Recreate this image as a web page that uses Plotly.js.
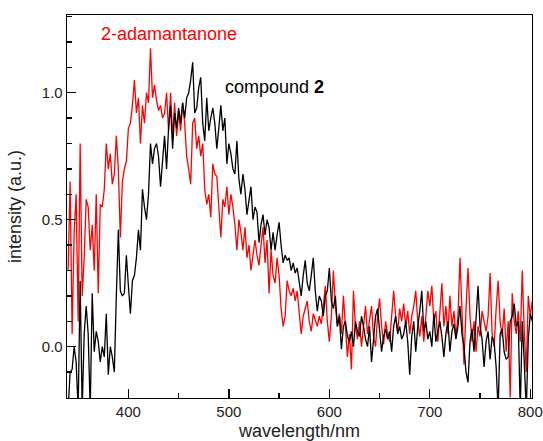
<!DOCTYPE html>
<html>
<head>
<meta charset="utf-8">
<script src="https://cdn.plot.ly/plotly-3.0.1.min.js"></script>
<style>html,body{margin:0;padding:0;background:#fff;}#chart{width:543px;height:441px;}</style>
</head>
<body>
<div id="chart"></div>
<script>
const wavelength = [
340,342,344,346,348,350,352,354,356,358,
360,362,364,366,368,370,372,374,376,378,
380,382,384,386,388,390,392,394,396,398,
400,402,404,406,408,410,412,414,416,418,
420,422,424,426,428,430,432,434,436,438,
440,442,444,446,448,450,452,454,456,458,
460,462,464,466,468,470,472,474,476,478,
480,482,484,486,488,490,492,494,496,498,
500,502,504,506,508,510,512,514,516,518,
520,522,524,526,528,530,532,534,536,538,
540,542,544,546,548,550,552,554,556,558,
560,562,564,566,568,570,572,574,576,578,
580,582,584,586,588,590,592,594,596,598,
600,602,604,606,608,610,612,614,616,618,
620,622,624,626,628,630,632,634,636,638,
640,642,644,646,648,650,652,654,656,658,
660,662,664,666,668,670,672,674,676,678,
680,682,684,686,688,690,692,694,696,698,
700,702,704,706,708,710,712,714,716,718,
720,722,724,726,728,730,732,734,736,738,
740,742,744,746,748,750,752,754,756,758,
760,762,764,766,768,770,772,774,776,778,
780,782,784,786,788,790,792,794,796,798,
800,802];

const adamantanone = [
0.30,0.65,0.05,0.45,0.60,0.10,0.80,0.20,0.35,0.58,
0.55,0.38,0.48,0.30,0.60,0.21,0.56,0.55,0.62,0.80,
0.70,0.76,0.64,0.68,0.83,0.70,0.43,0.65,0.70,0.73,
0.86,0.88,0.95,1.05,0.92,0.98,0.80,0.95,0.88,1.00,
0.96,1.175,0.98,1.03,0.97,0.93,0.95,0.90,0.92,1.00,
0.85,1.00,0.82,0.96,0.83,0.92,0.85,0.96,0.88,0.75,
0.70,0.64,0.88,0.90,0.78,0.83,0.75,0.80,0.62,0.56,
0.60,0.51,0.72,0.68,0.67,0.55,0.43,0.58,0.55,0.63,
0.52,0.60,0.55,0.48,0.38,0.50,0.45,0.38,0.47,0.35,
0.40,0.30,0.37,0.42,0.36,0.32,0.40,0.47,0.33,0.42,
0.21,0.38,0.28,0.25,0.35,0.28,0.15,0.08,0.12,0.26,
0.22,0.20,0.23,0.18,0.22,0.14,0.05,0.12,0.15,0.18,
0.10,0.06,0.13,0.10,0.08,0.12,0.09,0.16,0.24,0.10,
0.02,0.12,0.30,0.16,0.08,0.13,0.05,0.20,0.08,-0.04,
0.05,-0.09,0.22,0.08,0.03,0.10,0.00,0.08,0.16,0.05,
0.10,0.16,0.04,0.00,0.12,0.19,0.08,0.01,0.10,0.05,
0.02,0.12,0.22,0.12,0.06,0.15,0.10,0.17,0.08,0.14,
0.05,0.12,0.16,0.22,0.10,0.04,0.12,0.02,0.14,0.22,
0.16,0.24,0.10,0.14,0.02,0.12,0.25,0.08,0.16,0.05,
0.20,0.08,0.14,0.04,0.12,0.35,0.10,-0.07,0.15,0.31,
0.12,0.02,0.10,-0.02,0.08,0.04,0.14,0.10,0.06,0.12,
0.29,0.05,0.00,0.15,0.26,0.10,0.04,0.15,-0.02,0.10,
-0.20,0.21,0.10,0.05,0.14,0.02,0.30,0.06,-0.10,0.20,
0.12,0.18];

const compound2 = [
-0.25,-0.10,-0.09,0.00,-0.06,-0.25,0.26,-0.25,0.05,0.16,
0.05,-0.25,0.21,-0.02,0.06,0.02,-0.06,0.00,-0.04,0.13,
-0.11,0.00,-0.04,-0.10,0.20,0.46,0.22,0.20,0.21,0.36,
0.24,0.13,0.26,0.28,0.35,0.46,0.38,0.62,0.55,0.50,
0.60,0.80,0.72,0.78,0.80,0.75,0.63,0.74,0.83,0.70,
0.86,0.95,0.78,0.92,0.86,0.94,0.88,0.96,0.90,0.98,
1.00,1.05,1.12,0.92,0.94,1.02,1.06,0.88,0.81,0.98,
0.85,0.90,0.94,0.88,0.78,0.86,0.95,0.85,0.90,0.72,
0.80,0.76,0.70,0.68,0.81,0.66,0.60,0.68,0.62,0.52,
0.58,0.63,0.50,0.55,0.53,0.41,0.48,0.52,0.44,0.50,
0.47,0.38,0.45,0.38,0.44,0.49,0.40,0.33,0.36,0.34,
0.35,0.30,0.33,0.29,0.31,0.26,0.20,0.28,0.34,0.25,
0.22,0.28,0.35,0.22,0.14,0.20,0.18,0.12,0.20,0.22,
0.31,0.18,0.15,0.20,0.08,0.12,-0.01,0.08,0.10,0.04,
0.02,0.06,0.00,0.10,0.06,0.04,0.12,0.08,0.03,0.00,
0.08,-0.06,0.05,0.12,0.15,0.06,-0.02,0.04,0.07,0.03,
0.06,-0.02,0.08,0.12,0.05,0.08,0.03,0.05,0.10,0.02,
-0.11,0.04,0.10,-0.02,0.08,0.14,0.22,0.06,0.10,0.03,
0.06,0.00,0.13,0.02,0.06,0.10,0.04,-0.04,0.05,0.10,
-0.02,0.06,0.09,0.03,0.08,0.16,0.05,0.00,-0.10,-0.14,
0.02,0.07,-0.02,0.10,0.24,0.08,0.03,-0.08,0.02,0.06,
-0.05,0.04,0.02,-0.08,-0.25,0.05,0.07,-0.02,-0.05,-0.04,
0.10,0.12,0.17,0.08,0.10,-0.25,0.10,-0.06,-0.25,0.03,
0.13,0.10];

const seriesNames = ['2-adamantanone', 'compound 2'];
const FONT = 'Liberation Sans, Arial, sans-serif';

const traces = [
  {x: wavelength, y: adamantanone, type: 'scatter', mode: 'lines', name: seriesNames[0],
   line: {color: '#ff0000', width: 1.3}},
  {x: wavelength, y: compound2, type: 'scatter', mode: 'lines', name: seriesNames[1],
   line: {color: '#000000', width: 1.3}}
];

const axisCommon = {
  showline: true, linecolor: '#000', linewidth: 1.3, mirror: true,
  showgrid: false, zeroline: false,
  ticks: 'inside', ticklen: 9, tickwidth: 1.3, tickcolor: '#000',
  tickfont: {family: FONT, size: 15, color: '#222'}
};

const layout = {
  width: 543, height: 441,
  margin: {l: 67, r: 11, t: 15, b: 43},
  paper_bgcolor: '#fff', plot_bgcolor: '#fff',
  showlegend: false,
  font: {family: FONT, color: '#000'},
  xaxis: Object.assign({}, axisCommon, {
    range: [338.9, 801.7], tick0: 0, dtick: 100,
    minor: {dtick: 50, ticks: 'inside', ticklen: 5, tickwidth: 1.3, tickcolor: '#000'},
    title: {text: 'wavelength/nm', font: {family: FONT, size: 18, color: '#222'}, standoff: 10}
  }),
  yaxis: Object.assign({}, axisCommon, {
    range: [-0.202, 1.306], tick0: 0, dtick: 0.5, tickformat: '.1f',
    minor: {dtick: 0.1, ticks: 'inside', ticklen: 5, tickwidth: 1.3, tickcolor: '#000'},
    title: {text: 'intensity (a.u.)', font: {family: FONT, size: 18, color: '#222'}}
  }),
  annotations: [
    {x: 370.5, y: 1.231, xref: 'x', yref: 'y', xanchor: 'left', yanchor: 'middle',
     text: seriesNames[0], showarrow: false, font: {family: FONT, size: 18, color: '#ff0000'}},
    {x: 494.4, y: 1.022, xref: 'x', yref: 'y', xanchor: 'left', yanchor: 'middle',
     text: 'compound <b>2</b>', showarrow: false, font: {family: FONT, size: 18, color: '#000'}}
  ]
};

Plotly.newPlot('chart', traces, layout, {staticPlot: true, displayModeBar: false});
</script>
</body>
</html>
